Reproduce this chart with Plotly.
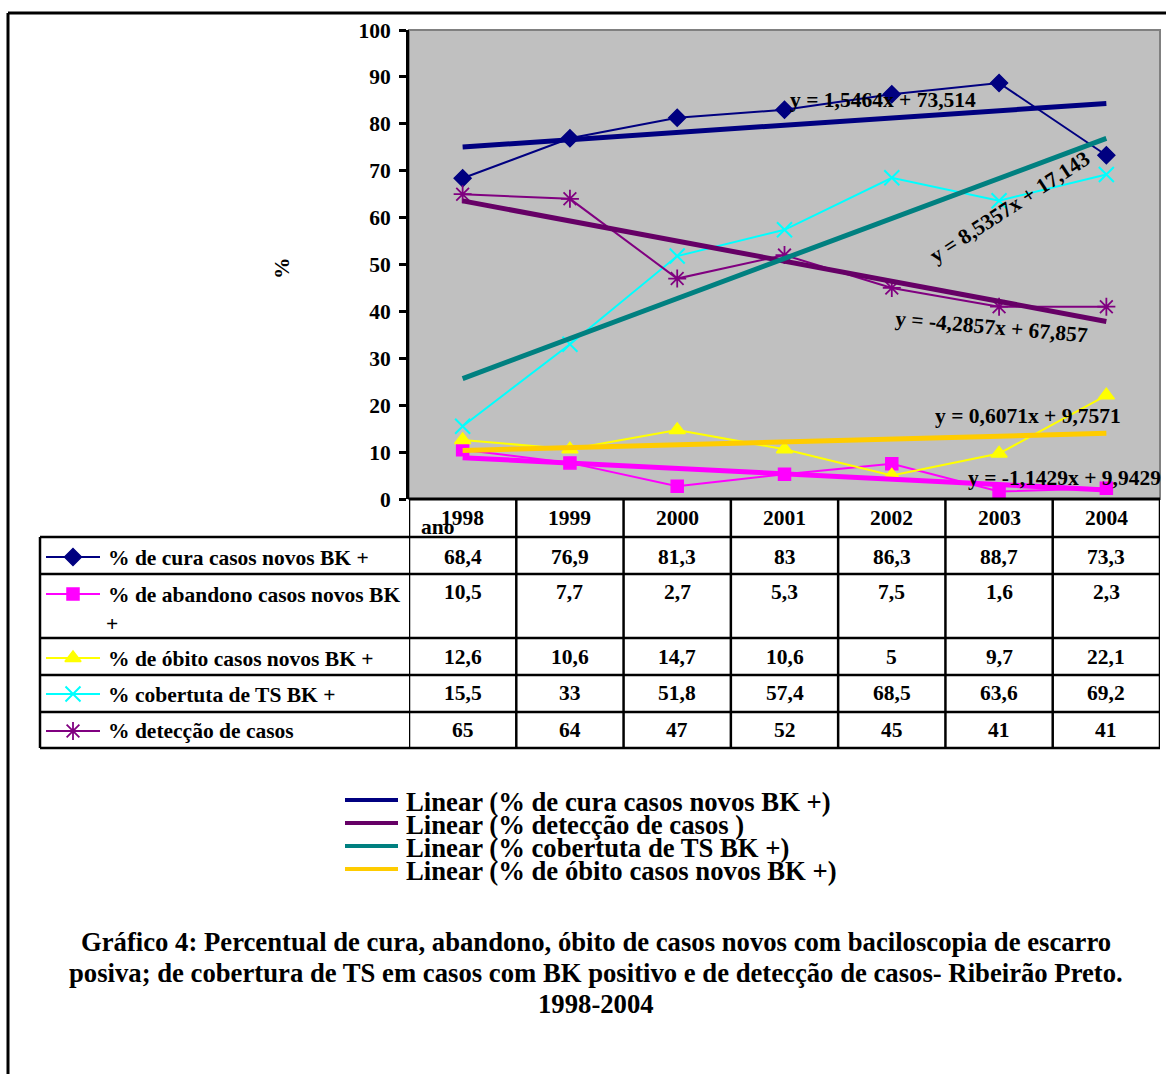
import plotly.graph_objects as go

# ---- data -------------------------------------------------------------
anos = ["1998", "1999", "2000", "2001", "2002", "2003", "2004"]

cura = [68.4, 76.9, 81.3, 83, 86.3, 88.7, 73.3]
abandono = [10.5, 7.7, 2.7, 5.3, 7.5, 1.6, 2.3]
obito = [12.6, 10.6, 14.7, 10.6, 5, 9.7, 22.1]
cobertura = [15.5, 33, 51.8, 57.4, 68.5, 63.6, 69.2]
deteccao = [65, 64, 47, 52, 45, 41, 41]

series_names = [
    "% de cura casos novos BK +",
    "% de abandono casos novos BK +",
    "% de óbito casos novos BK +",
    "% cobertuta de TS BK +",
    "% detecção de casos",
]

# linear trendlines (slope, intercept), x = 1..7
trend_cura = (1.5464, 73.514)
trend_deteccao = (-4.2857, 67.857)
trend_cobertura = (8.5357, 17.143)
trend_obito = (0.6071, 9.7571)
trend_abandono = (-1.1429, 9.9429)

# ---- geometry helpers (canvas is 1166 x 1074 with no margin) ---------
W, H = 1166, 1074
FONT = "Liberation Serif"


def px(x):
    return x / W


def py(y):
    return 1 - y / H


PLOT_L, PLOT_R, PLOT_T, PLOT_B = 409, 1160, 30, 499
xs = list(range(len(anos)))


def fmt(v):
    return f"{v:g}".replace(".", ",")


fig = go.Figure()

styles = [
    dict(color="#000080", symbol="diamond", size=13, lw=1.5),
    dict(color="#FF00FF", symbol="square", size=12, lw=1.5),
    dict(color="#FFFF00", symbol="triangle-up", size=14, lw=1.5),
    dict(color="#00FFFF", symbol="x-thin-open", size=15, lw=2),
    dict(color="#800080", symbol="asterisk-open", size=15, lw=1.8),
]
data = [cura, abandono, obito, cobertura, deteccao]

for name, vals, st in zip(series_names, data, styles):
    fig.add_trace(go.Scatter(
        x=xs, y=vals, mode="lines+markers", name=name,
        line=dict(color=st["color"], width=2),
        marker=dict(symbol=st["symbol"], size=st["size"], color=st["color"],
                    line=dict(color=st["color"], width=st["lw"])),
        showlegend=False,
    ))

trends = [
    ("Linear (% de cura casos novos BK +)", trend_cura, "#000080"),
    ("Linear (% detecção de casos )", trend_deteccao, "#660066"),
    ("Linear (% cobertuta de TS BK +)", trend_cobertura, "#008080"),
    ("Linear (% de óbito casos novos BK +)", trend_obito, "#FFCC00"),
    ("Linear (% de abandono casos novos BK +)", trend_abandono, "#FF00FF"),
]
for name, (m, b), col in trends:
    fig.add_trace(go.Scatter(
        x=[xs[0], xs[-1]], y=[b + m * 1, b + m * len(xs)], mode="lines",
        line=dict(color=col, width=5), name=name, showlegend=False,
    ))

# ---- legend-key symbols inside the data table (full-page pixel axes) --
key_rows = [557, 594, 658, 694, 731]
for st, yk in zip(styles, key_rows):
    fig.add_trace(go.Scatter(
        x=[46, 73, 100], y=[yk, yk, yk], xaxis="x2", yaxis="y2",
        mode="lines", line=dict(color=st["color"], width=2),
        showlegend=False, hoverinfo="skip",
    ))
    fig.add_trace(go.Scatter(
        x=[73], y=[yk], xaxis="x2", yaxis="y2", mode="markers",
        marker=dict(symbol=st["symbol"], size=st["size"], color=st["color"],
                    line=dict(color=st["color"], width=st["lw"])),
        showlegend=False, hoverinfo="skip",
    ))

shapes = []
annotations = []


def line(x0, y0, x1, y1, color="black", width=2, xref="paper", yref="paper"):
    shapes.append(dict(type="line", x0=x0, y0=y0, x1=x1, y1=y1,
                       xref=xref, yref=yref,
                       line=dict(color=color, width=width)))


def text(x, y, s, size=21.5, xanchor="center", yanchor="middle", angle=0,
         xref="paper", yref="paper"):
    annotations.append(dict(x=x, y=y, text=s, xref=xref, yref=yref,
                            showarrow=False, xanchor=xanchor, yanchor=yanchor,
                            textangle=angle,
                            font=dict(family=FONT, size=size, color="black",
                                      weight="bold")))


# grey plotting area
shapes.append(dict(type="rect", xref="paper", yref="paper", layer="below",
                   x0=px(PLOT_L), x1=px(PLOT_R), y0=py(PLOT_B), y1=py(PLOT_T),
                   fillcolor="#C0C0C0", line=dict(color="#808080", width=2)))

# outer frame (top and left edges)
line(px(8), py(13), px(1170), py(13), width=3)
line(px(8), py(13), px(8), py(1080), width=3)

# ---- data table -------------------------------------------------------
TBL_L = 40
row_lines = [537, 574, 638, 675, 712, 748]
line(px(PLOT_L), py(PLOT_B), px(PLOT_R), py(PLOT_B), width=3)
for yl in row_lines:
    line(px(TBL_L), py(yl), px(PLOT_R), py(yl), width=2.5)
line(px(TBL_L), py(537), px(TBL_L), py(748), width=2.5)
for i in range(len(anos) + 1):
    line(i - 0.5, py(PLOT_B), i - 0.5, py(748), width=2.5, xref="x")

# header years
for i, a in enumerate(anos):
    text(i, py(518), a, xref="x")
text(px(419), py(527), "ano", xanchor="left")

# row labels
text(px(106), py(558), series_names[0], xanchor="left")
text(px(106), py(595), "% de abandono casos novos BK", xanchor="left")
text(px(104), py(624), "+", xanchor="left")
text(px(106), py(659), series_names[2], xanchor="left")
text(px(106), py(695), series_names[3], xanchor="left")
text(px(106), py(731), series_names[4], xanchor="left")

# row values
value_rows = [557, 592, 657, 693, 730]
for vals, yv in zip(data, value_rows):
    for i, v in enumerate(vals):
        text(i, py(yv), fmt(v), xref="x")

# ---- trendline equations ---------------------------------------------
def eq(t):
    m, b = t
    return f"y = {fmt(m)}x + {fmt(b)}"


text(px(883), py(100), eq(trend_cura))
text(px(1010), py(207), eq(trend_cobertura), angle=-33)
text(px(991), py(327), eq(trend_deteccao), angle=5)
text(px(1028), py(416), eq(trend_obito))
text(px(1064), py(478), eq(trend_abandono))

# y-axis title
text(px(282), py(268), "%", angle=-90)

# ---- bottom legend (trendlines) --------------------------------------
leg_y = [800, 823, 846, 869]
for (name, _, col), yl in zip(trends[:4], leg_y):
    shapes.append(dict(type="line", x0=px(345), x1=px(398), y0=py(yl), y1=py(yl),
                       xref="paper", yref="paper",
                       line=dict(color=col, width=4)))
    text(px(404), py(yl + 2), name, size=26.7, xanchor="left")

# ---- caption ----------------------------------------------------------
text(px(596), py(942), "Gráfico 4: Percentual de cura, abandono, óbito de casos novos com baciloscopia de escarro", size=26.7)
text(px(596), py(973), "posiva; de cobertura de TS em casos com BK positivo e de detecção de casos- Ribeirão Preto.", size=26.7)
text(px(596), py(1004), "1998-2004", size=26.7)

fig.update_layout(
    width=W, height=H,
    margin=dict(l=0, r=0, t=0, b=0, pad=0, autoexpand=False),
    paper_bgcolor="white",
    plot_bgcolor="rgba(0,0,0,0)",
    showlegend=False,
    xaxis=dict(domain=[px(PLOT_L), px(PLOT_R)], range=[-0.5, 6.5],
               showticklabels=False, showgrid=False, zeroline=False,
               showline=False, ticks="", automargin=False),
    yaxis=dict(domain=[py(PLOT_B), py(PLOT_T)], range=[0, 100], dtick=10,
               showgrid=False, zeroline=False, showline=True,
               linecolor="black", linewidth=3, ticks="outside",
               ticklen=7, tickwidth=2.5, tickcolor="black", automargin=False,
               ticklabelstandoff=4,
               tickfont=dict(family=FONT, size=21.5, color="black",
                             weight="bold")),
    xaxis2=dict(domain=[0, 1], range=[0, W], visible=False, anchor="y2",
                automargin=False),
    yaxis2=dict(domain=[0, 1], range=[H, 0], visible=False, anchor="x2",
                automargin=False),
    shapes=shapes,
    annotations=annotations,
)

fig.write_html("out.html")
